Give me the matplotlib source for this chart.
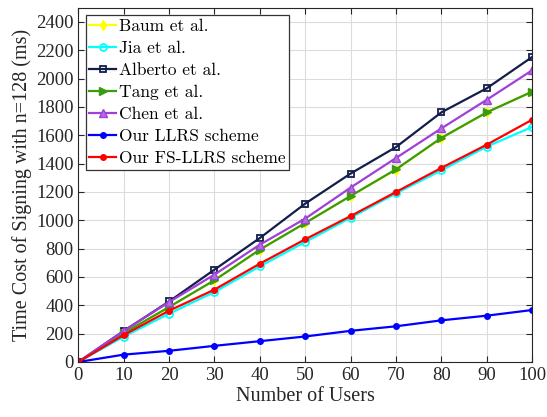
import matplotlib
matplotlib.use("Agg")
import matplotlib.pyplot as plt
from matplotlib.font_manager import FontProperties

users = [0, 10, 20, 30, 40, 50, 60, 70, 80, 90, 100]

baum = [0, 203, 388, 577, 793, 981, 1172, 1358, 1580, 1762, 1908]
jia = [0, 179, 341, 494, 675, 847, 1018, 1190, 1353, 1520, 1659]
alberto = [0, 219, 427, 652, 875, 1118, 1330, 1517, 1762, 1932, 2153]
tang = [0, 203, 388, 577, 793, 981, 1172, 1360, 1582, 1762, 1908]
chen = [0, 219, 423, 617, 828, 1012, 1231, 1440, 1649, 1851, 2059]
llrs = [0, 52, 79, 114, 147, 180, 220, 252, 294, 327, 367]
fs_llrs = [0, 190, 362, 511, 694, 866, 1030, 1200, 1370, 1534, 1710]

labels = ["Baum et al.", "Jia et al.", "Alberto et al.", "Tang et al.",
          "Chen et al.", "Our LLRS scheme", "Our FS-LLRS scheme"]
x_ticks = list(range(0, 101, 10))
y_ticks = list(range(0, 2401, 200))

series = [baum, jia, alberto, tang, chen, llrs, fs_llrs]
styles = [
    dict(color="#FFFF00", marker="d", mfc="#FFFF00", ms=5),
    dict(color="#00FFFF", marker="o", mfc="none", ms=5, mew=1.3),
    dict(color="#141E4A", marker="s", mfc="none", ms=5, mew=1.3),
    dict(color="#3A9A12", marker=">", mfc="#3A9A12", ms=6),
    dict(color="#A040D8", marker="^", mfc="#B070E0", ms=6),
    dict(color="#0000FF", marker="o", mfc="#0000FF", ms=4),
    dict(color="#FF0000", marker="o", mfc="#FF0000", ms=4),
]

fig = plt.figure(figsize=(5.47, 4.17), dpi=100)
ax = fig.add_axes([0.1431, 0.1319, 0.830, 0.8496])

for vals, lab, st in zip(series, labels, styles):
    ax.plot(users, vals, label=lab, lw=1.6, **st)

ax.set_xlim(0, 100)
ax.set_ylim(0, 2500)
ax.set_xticks(x_ticks)
ax.set_yticks(y_ticks)
ax.grid(True, color="#dcdcdc", lw=0.8)
ax.set_axisbelow(True)
ax.tick_params(direction="in", top=True, right=True, length=4, width=0.8,
               labelsize=13.5, colors="#262626", labelcolor="#262626")
for lbl in ax.get_xticklabels() + ax.get_yticklabels():
    lbl.set_family("Liberation Serif")
for sp in ax.spines.values():
    sp.set_color("#262626")
    sp.set_linewidth(0.8)

ax.set_xlabel("Number of Users", family="Liberation Serif", fontsize=14.5,
              color="#262626", labelpad=2)
ax.set_ylabel("Time Cost of Signing with n=128 (ms)", family="Liberation Serif",
              fontsize=14.5, color="#262626", labelpad=3)

leg = ax.legend(loc="upper left", bbox_to_anchor=(0.0163, 0.979),
                prop=FontProperties(family="cmr10", size=12.5),
                frameon=True, fancybox=False, edgecolor="#333333",
                framealpha=1, borderaxespad=0, labelspacing=0.38,
                handlelength=1.5, handletextpad=0.18, borderpad=0.22)
leg.get_frame().set_linewidth(0.9)

fig.savefig("out.png", dpi=100)
